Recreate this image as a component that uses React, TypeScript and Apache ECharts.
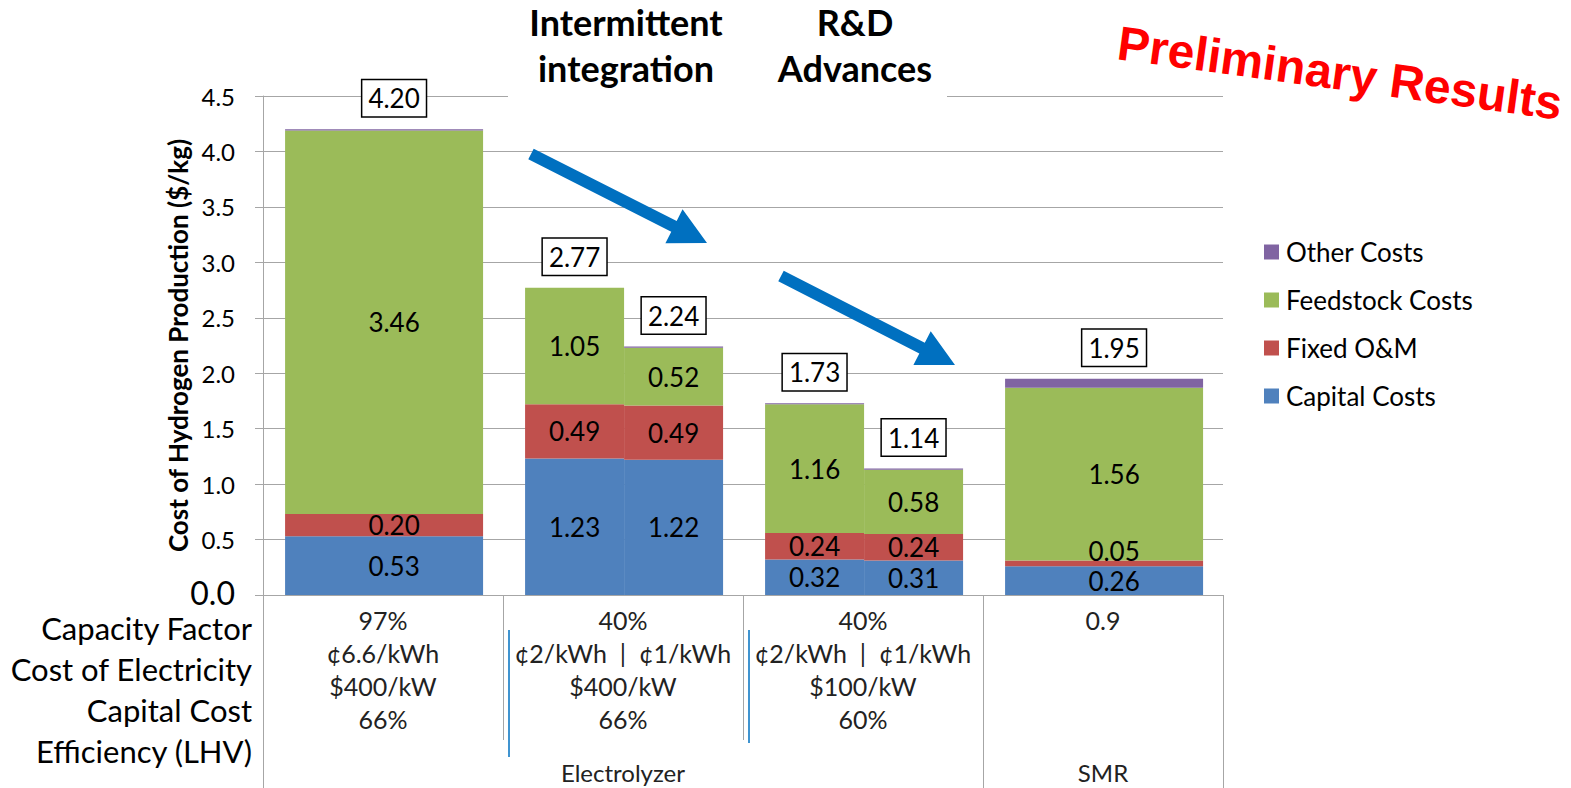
import React, { useEffect, useRef } from "react";
import * as echarts from "echarts";

// ---------- data ----------
const seriesNames = ["Capital Costs", "Fixed O&M", "Feedstock Costs", "Other Costs"];
const seriesColors = ["#4f81bd", "#c0504d", "#9bbb59", "#8064a2"];
const capital = [0.53, 1.23, 1.22, 0.32, 0.31, 0.26];
const fixedOM = [0.2, 0.49, 0.49, 0.24, 0.24, 0.05];
const feedstock = [3.46, 1.05, 0.52, 1.16, 0.58, 1.56];
const other = [0.01, 0.0, 0.01, 0.01, 0.01, 0.08];
const totals = [4.2, 2.77, 2.24, 1.73, 1.14, 1.95];
const barGroup = [0, 1, 1, 2, 2, 3];
const barSlot = [0, 0, 1, 0, 1, 0];
const barSlots = [1, 2, 2, 2, 2, 1];
const groupNames = ["", "Electrolyzer", "", "SMR"];
const rowLabels = ["Capacity Factor", "Cost of Electricity", "Capital Cost", "Efficiency (LHV)"];
const tableCells = [
  ["97%", "¢6.6/kWh", "$400/kW", "66%"],
  ["40%", "¢2/kWh  |  ¢1/kWh", "$400/kW", "66%"],
  ["40%", "¢2/kWh  |  ¢1/kWh", "$100/kW", "60%"],
  ["0.9", "", "", ""],
];
const yMin = 0;
const yMax = 4.5;
const yStep = 0.5;
const titleLeft = ["Intermittent", "integration"];
const titleRight = ["R&D", "Advances"];
const stamp = "Preliminary Results";

// ---------- style ----------
const FONT = "Lato, 'Noto Sans', sans-serif";
const PAD_L = 0.092;
const PAD_R = 0.083;
const labelShift = [10, 0, 0, 0, 0, 10];
const GRID = { left: 263, top: 96, width: 960, height: 499 };
const GRAY = "#a6a6a6";

function barX(i: number) {
  const g = barGroup[i];
  const w = 1 - PAD_L - PAD_R;
  const x0 = g + PAD_L + (w * barSlot[i]) / barSlots[i];
  const x1 = g + PAD_L + (w * (barSlot[i] + 1)) / barSlots[i];
  return [x0, x1];
}

function arrowPts(sx: number, sy: number, tx: number, ty: number, sh: number, hh: number, hl: number) {
  const dx = tx - sx, dy = ty - sy;
  const L = Math.hypot(dx, dy);
  const ux = dx / L, uy = dy / L;
  const px = -uy, py = ux;
  const nx = tx - ux * hl, ny = ty - uy * hl;
  return [
    [sx + px * sh, sy + py * sh],
    [nx + px * sh, ny + py * sh],
    [nx + px * hh, ny + py * hh],
    [tx, ty],
    [nx - px * hh, ny - py * hh],
    [nx - px * sh, ny - py * sh],
    [sx - px * sh, sy - py * sh],
  ];
}

export default function App() {
  const ref = useRef<HTMLDivElement>(null);
  useEffect(() => {
    if (!ref.current) return;
    const chart = echarts.init(ref.current, null, { renderer: "svg" });
    const stacks = [capital, fixedOM, feedstock, other];
    const series: any[] = stacks.map((vals, si) => {
      const data = vals.map((v, i) => {
        let base = 0;
        for (let k = 0; k < si; k++) base += stacks[k][i];
        return [i, base, base + v, v];
      });
      const showLabel = si < 3;
      return {
        type: "custom",
        name: seriesNames[si],
        itemStyle: { color: seriesColors[si] },
        encode: { x: 0, y: 2 },
        clip: false,
        data,
        renderItem: (params: any, api: any) => {
          const i = api.value(0);
          const base = api.value(1);
          const top = api.value(2);
          const v = api.value(3);
          if (top - base <= 0) return null;
          const [x0, x1] = barX(i);
          const p0 = api.coord([x0, base]);
          const p1 = api.coord([x1, top]);
          const children: any[] = [
            {
              type: "rect",
              shape: { x: p0[0], y: p1[1], width: p1[0] - p0[0], height: Math.max(1, p0[1] - p1[1]) },
              style: { fill: seriesColors[si] },
            },
          ];
          if (showLabel) {
            children.push({
              type: "text",
              z2: 10,
              style: {
                text: v.toFixed(2),
                x: (p0[0] + p1[0]) / 2 + labelShift[i],
                y: (p0[1] + p1[1]) / 2 + (v < 0.1 ? -12 : 0),
                align: "center",
                verticalAlign: "middle",
                fill: "#000",
                font: `26px ${FONT}`,
              },
            });
          }
          return { type: "group", children };
        },
      };
    });
    series.push({
      type: "custom",
      name: "Total",
      encode: { x: 0, y: 1 },
      clip: false,
      z: 5,
      data: totals.map((t, i) => [i, t]),
      renderItem: (params: any, api: any) => {
        const i = api.value(0);
        const t = api.value(1);
        const [x0, x1] = barX(i);
        const p = api.coord([(x0 + x1) / 2, t]);
        return {
          type: "text",
          style: {
            text: t.toFixed(2),
            x: p[0] + labelShift[i],
            y: p[1] - 31,
            align: "center",
            verticalAlign: "middle",
            fill: "#000",
            font: `26px ${FONT}`,
            backgroundColor: "#fff",
            borderColor: "#000",
            borderWidth: 1.5,
            padding: [6, 6, 4, 6],
          },
        };
      },
    });

    chart.setOption({
      animation: false,
      color: seriesColors,
      grid: { ...GRID },
      xAxis: {
        type: "value",
        min: 0,
        max: 4,
        interval: 1,
        axisLine: { show: true, lineStyle: { color: GRAY } },
        axisTick: { show: false },
        axisLabel: { show: false },
        splitLine: { show: false },
      },
      yAxis: {
        type: "value",
        min: yMin,
        max: yMax,
        interval: yStep,
        axisLine: { show: true, lineStyle: { color: GRAY } },
        axisTick: { show: true, length: 8, lineStyle: { color: GRAY } },
        splitLine: { show: true, lineStyle: { color: GRAY, width: 1 } },
        axisLabel: {
          margin: 28,
          color: "#000",
          fontSize: 24,
          fontFamily: FONT,
          formatter: (v: number) => (v === 0 ? "{big|0.0}" : v.toFixed(1)),
          rich: { big: { fontSize: 32, lineHeight: 24, fontFamily: FONT, color: "#000", padding: [0, 0, 6, 0] } },
        },
        name: "Cost of Hydrogen Production ($/kg)",
        nameLocation: "middle",
        nameGap: 72,
        nameMoveOverlap: false,
        nameTextStyle: { fontSize: 26, fontWeight: "bold", fontFamily: FONT, color: "#000" },
      },
      legend: {
        data: ["Other Costs", "Feedstock Costs", "Fixed O&M", "Capital Costs"],
        orient: "vertical",
        left: 1259,
        top: 234,
        itemWidth: 15,
        itemHeight: 15,
        itemGap: 22,
        icon: "rect",
        textStyle: { fontSize: 26, fontFamily: FONT, color: "#000", lineHeight: 26, padding: [0, 0, 0, 2] },
      },
      series,
    });

    const xp = (v: number) => chart.convertToPixel({ xAxisIndex: 0 }, v) as number;
    const y0 = chart.convertToPixel({ yAxisIndex: 0 }, 0) as number;
    const graphics: any[] = [];
    // white box behind titles hiding the top gridline
    graphics.push({ type: "rect", z: 50, shape: { x: 508, y: 0, width: 439, height: 97.5 }, style: { fill: "#fff" } });
    titleLeft.forEach((t, k) =>
      graphics.push({ type: "text", z: 60, style: { text: t, x: 626, y: 22 + k * 46, align: "center", verticalAlign: "middle", font: `bold 36px ${FONT}`, fill: "#000" } })
    );
    titleRight.forEach((t, k) =>
      graphics.push({ type: "text", z: 60, style: { text: t, x: 855, y: 22 + k * 46, align: "center", verticalAlign: "middle", font: `bold 36px ${FONT}`, fill: "#000" } })
    );
    graphics.push({
      type: "text",
      z: 60,
      x: 1340,
      y: 73,
      rotation: -0.136,
      style: { text: stamp, x: 0, y: 0, align: "center", verticalAlign: "middle", font: `bold 48px 'Liberation Sans', Arial, sans-serif`, fill: "#ff0000" },
    });
    // arrows
    graphics.push({ type: "polygon", z: 60, shape: { points: arrowPts(531, 154, 707, 243, 6, 19, 37) }, style: { fill: "#0070c0" } });
    graphics.push({ type: "polygon", z: 60, shape: { points: arrowPts(781, 276, 955, 365, 6, 19, 37) }, style: { fill: "#0070c0" } });
    // table lines
    [0, 1, 2, 3, 4].forEach((g) => {
      const x = Math.round(xp(g)) + 0.5;
      const full = g === 0 || g >= 3;
      graphics.push({ type: "line", z: 40, shape: { x1: x, y1: y0, x2: x, y2: full ? 788 : 740 }, style: { stroke: GRAY, lineWidth: 1 } });
    });
    [1, 2].forEach((g) => {
      const x = Math.round(xp(g)) + 6;
      graphics.push({ type: "line", z: 40, shape: { x1: x, y1: 630, x2: x, y2: g === 1 ? 757 : 743 }, style: { stroke: "#0070c0", lineWidth: 1.5 } });
    });
    // row labels
    rowLabels.forEach((t, r) =>
      graphics.push({ type: "text", z: 40, style: { text: t, x: 252, y: 628 + r * 41, align: "right", verticalAlign: "middle", font: `31px ${FONT}`, lineHeight: 31, fill: "#000" } })
    );
    // table cells
    tableCells.forEach((col, g) => {
      const cx = xp(g + 0.5);
      col.forEach((t, r) => {
        if (!t) return;
        graphics.push({ type: "text", z: 40, style: { text: t, x: cx, y: 620 + r * 33, align: "center", verticalAlign: "middle", font: `25px ${FONT}`, fill: "#222" } });
      });
      if (groupNames[g]) {
        graphics.push({ type: "text", z: 40, style: { text: groupNames[g], x: cx, y: 772, align: "center", verticalAlign: "middle", font: `24px ${FONT}`, fill: "#222" } });
      }
    });
    chart.setOption({ graphic: graphics });

    return () => chart.dispose();
  }, []);
  return <div ref={ref} style={{ position: "fixed", left: 0, top: 0, width: 1571, height: 788, background: "#fff" }} />;
}
